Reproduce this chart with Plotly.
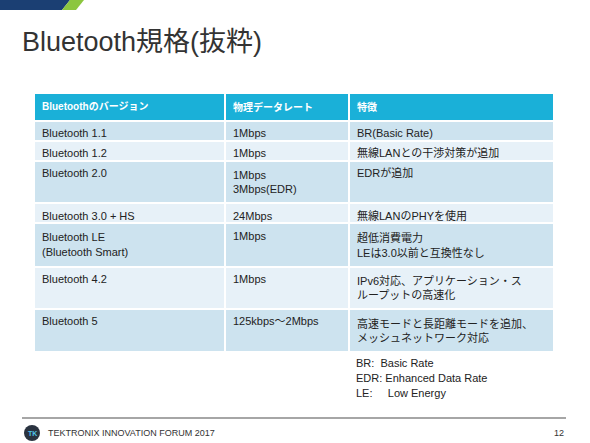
import plotly.graph_objects as go

header = ["Bluetoothのバージョン", "物理データレート", "特徴"]
versions = ["Bluetooth 1.1", "Bluetooth 1.2", "Bluetooth 2.0", "Bluetooth 3.0 + HS",
            "Bluetooth LE<br>(Bluetooth Smart)", "Bluetooth 4.2", "Bluetooth 5"]
rates = ["1Mbps", "1Mbps", "1Mbps<br>3Mbps(EDR)", "24Mbps", "1Mbps", "1Mbps", "125kbps～2Mbps"]
features = ["BR(Basic Rate)", "無線LANとの干渉対策が追加", "EDRが追加", "無線LANのPHYを使用",
            "超低消費電力<br>LEは3.0以前と互換性なし",
            "IPv6対応、アプリケーション・ス<br>ループットの高速化",
            "高速モードと長距離モードを追加、<br>メッシュネットワーク対応"]
notes = ["BR:  Basic Rate", "EDR: Enhanced Data Rate", "LE:     Low Energy"]

FONT = "Liberation Sans, Arial, Noto Sans CJK JP"
W, H = 590, 443
row_colors = ["#cde3ef" if i % 2 == 0 else "#e7f1f8" for i in range(len(versions))]

fig = go.Figure(go.Table(
    domain=dict(x=[34 / W, 554 / W], y=[0, 1 - 93 / H]),
    columnwidth=[191, 124, 205],
    header=dict(values=["<b>%s</b>" % h for h in header], fill_color="#1ab0d8",
                line=dict(color="white", width=2), align="left", height=25,
                font=dict(family=FONT, size=10, color="white")),
    cells=dict(values=[versions, rates, features], fill_color=[row_colors] * 3,
               line=dict(color="white", width=2), align="left", height=20,
               font=dict(family=FONT, size=11, color="#222")),
))

# title and slide decoration
fig.add_annotation(text="Bluetooth規格(抜粋)", x=20 / W, y=1 - 42 / H, xref="paper", yref="paper",
                   xanchor="left", yanchor="middle", showarrow=False,
                   font=dict(family=FONT, size=27, color="#333"))
fig.add_shape(type="path", path="M 0 0 L 70 0 L 62 10 L 0 10 Z", xref="x", yref="y",
              fillcolor="#1b3f73", line_width=0, layer="above")
fig.add_shape(type="path", path="M 70 0 L 84 0 L 76 10 L 62 10 Z", xref="x", yref="y",
              fillcolor="#8cc63f", line_width=0, layer="above")
for i, n in enumerate(notes):
    fig.add_annotation(text=n, x=354, y=363 + 15 * i, xref="x", yref="y", xanchor="left",
                       showarrow=False, font=dict(family=FONT, size=11, color="#222"))
fig.add_shape(type="line", x0=22, x1=566, y0=418, y1=418, xref="x", yref="y",
              line=dict(color="#888", width=1.5))
fig.add_shape(type="circle", x0=24, x1=40, y0=425, y1=441, xref="x", yref="y",
              fillcolor="#2a3340", line_width=0)
fig.add_annotation(text="<b>TK</b>", x=32, y=433, xref="x", yref="y", showarrow=False,
                   font=dict(family=FONT, size=7, color="#4fc3e8"))
fig.add_annotation(text="TEKTRONIX INNOVATION FORUM 2017", x=46, y=433, xref="x", yref="y",
                   xanchor="left", showarrow=False, font=dict(family=FONT, size=9, color="#333"))
fig.add_annotation(text="12", x=566, y=433, xref="x", yref="y", xanchor="right",
                   showarrow=False, font=dict(family=FONT, size=9, color="#333"))

fig.update_xaxes(range=[0, W], visible=False, fixedrange=True)
fig.update_yaxes(range=[H, 0], visible=False, fixedrange=True)
fig.update_layout(width=W, height=H, margin=dict(l=0, r=0, t=0, b=0),
                  paper_bgcolor="white", plot_bgcolor="white", showlegend=False)
fig.write_html("out.html", config={"displayModeBar": False},
               post_script="document.body.style.margin='0';")
